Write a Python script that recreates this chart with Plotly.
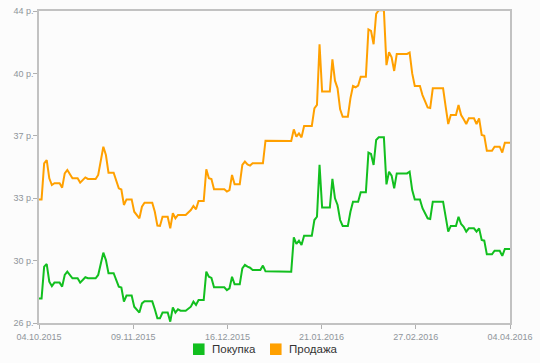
import plotly.graph_objects as go

dates = [
    "2015-10-04", "2015-10-05", "2015-10-06", "2015-10-07", "2015-10-08", "2015-10-09",
    "2015-10-10", "2015-10-12", "2015-10-13", "2015-10-14", "2015-10-15", "2015-10-17",
    "2015-10-19", "2015-10-20", "2015-10-22", "2015-10-23", "2015-10-26", "2015-10-27",
    "2015-10-29", "2015-10-30", "2015-10-31", "2015-11-02", "2015-11-04", "2015-11-05",
    "2015-11-06", "2015-11-07", "2015-11-09", "2015-11-10", "2015-11-12", "2015-11-13",
    "2015-11-14", "2015-11-17", "2015-11-18", "2015-11-19", "2015-11-20", "2015-11-21",
    "2015-11-23", "2015-11-24", "2015-11-25", "2015-11-26", "2015-11-27", "2015-11-28",
    "2015-11-30", "2015-12-02", "2015-12-03", "2015-12-04", "2015-12-05", "2015-12-07",
    "2015-12-08", "2015-12-09", "2015-12-10", "2015-12-11", "2015-12-15", "2015-12-16",
    "2015-12-17", "2015-12-18", "2015-12-19", "2015-12-21", "2015-12-22", "2015-12-23",
    "2015-12-24", "2015-12-25", "2015-12-26", "2015-12-29", "2015-12-30", "2015-12-31",
    "2016-01-10", "2016-01-11", "2016-01-12", "2016-01-13", "2016-01-14", "2016-01-15",
    "2016-01-18", "2016-01-19", "2016-01-20", "2016-01-21", "2016-01-22", "2016-01-25",
    "2016-01-26", "2016-01-27", "2016-01-28", "2016-01-29", "2016-01-30", "2016-02-01",
    "2016-02-02", "2016-02-03", "2016-02-04", "2016-02-05", "2016-02-06", "2016-02-08",
    "2016-02-09", "2016-02-10", "2016-02-11", "2016-02-12", "2016-02-13", "2016-02-15",
    "2016-02-16", "2016-02-17", "2016-02-18", "2016-02-19", "2016-02-20", "2016-02-24",
    "2016-02-25", "2016-02-26", "2016-02-27", "2016-02-29", "2016-03-01", "2016-03-03",
    "2016-03-04", "2016-03-05", "2016-03-09", "2016-03-10", "2016-03-11", "2016-03-12",
    "2016-03-14", "2016-03-15", "2016-03-16", "2016-03-17", "2016-03-18", "2016-03-19",
    "2016-03-21", "2016-03-22", "2016-03-23", "2016-03-24", "2016-03-25", "2016-03-26",
    "2016-03-28", "2016-03-29", "2016-03-31", "2016-04-01", "2016-04-02", "2016-04-04",
]

buy = [
    27.42, 27.42, 29.25, 29.40, 28.38, 28.13,
    28.33, 28.33, 28.10, 28.77, 28.96, 28.58,
    28.58, 28.33, 28.64, 28.58, 28.58, 28.77,
    30.06, 29.63, 28.87, 28.87, 28.10, 28.05,
    27.23, 27.58, 27.58, 26.94, 26.60, 27.13,
    27.25, 27.25, 26.79, 26.27, 26.27, 26.60,
    26.60, 26.08, 26.90, 26.60, 26.79, 26.71,
    26.71, 26.94, 27.23, 27.04, 27.33, 27.33,
    28.96, 28.67, 28.60, 28.06, 28.06, 27.90,
    28.00, 28.67, 28.23, 28.23, 29.15, 29.35,
    29.25, 29.19, 29.06, 29.06, 29.31, 28.98,
    28.96, 30.94, 30.56, 30.75, 30.50, 31.04,
    31.04, 31.94, 32.13, 35.12, 32.67, 32.67,
    34.31, 33.19, 32.81, 31.94, 31.60, 31.60,
    32.42, 33.00, 33.00, 33.00, 33.54, 33.54,
    35.83, 35.75, 35.12, 36.56, 36.71, 36.71,
    34.00, 34.73, 34.50, 33.77, 34.63, 34.63,
    34.73, 33.67, 33.13, 33.13, 32.62, 32.04,
    32.00, 33.00, 33.00, 32.13, 31.27, 31.60,
    31.60, 32.13, 31.71, 31.55, 31.27, 31.46,
    31.46, 31.27, 31.46, 30.79, 30.75, 29.96,
    29.96, 30.17, 30.17, 29.87, 30.27, 30.27,
]

sell = [
    33.13, 33.13, 35.21, 35.40, 34.35, 33.96,
    34.06, 34.06, 33.81, 34.63, 34.83, 34.35,
    34.35, 34.10, 34.40, 34.31, 34.31, 34.54,
    36.17, 35.69, 34.67, 34.67, 33.77, 33.70,
    32.81, 33.13, 33.13, 32.42, 32.04, 32.71,
    32.94, 32.94, 32.42, 31.62, 31.60, 32.13,
    32.13, 31.46, 32.33, 32.04, 32.23, 32.23,
    32.23, 32.52, 32.75, 32.56, 33.04, 33.04,
    34.87, 34.35, 34.30, 33.71, 33.71, 33.58,
    33.67, 34.54, 34.00, 34.00, 35.12, 35.31,
    35.15, 35.08, 35.21, 35.21, 35.21, 36.52,
    36.50, 37.17, 36.75, 36.94, 36.71, 37.37,
    37.37, 38.38, 38.58, 42.08, 39.35, 39.35,
    41.21, 39.98, 39.54, 38.33, 37.90, 37.90,
    38.96, 39.67, 39.60, 39.70, 40.21, 40.21,
    42.94, 42.85, 42.08, 43.83, 44.05, 44.05,
    40.88, 41.62, 41.33, 40.54, 41.52, 41.52,
    41.60, 40.40, 39.67, 39.67, 39.15, 38.44,
    38.40, 39.54, 39.54, 38.48, 37.48, 38.00,
    38.00, 38.58, 38.00, 37.75, 37.48, 37.81,
    37.81, 37.48, 37.81, 36.85, 36.80, 35.94,
    35.94, 36.17, 36.17, 35.83, 36.40, 36.40,
]

series_names = ["Покупка", "Продажа"]
colors = ["#12bf1f", "#ffa000"]

y_tickvals = [26, 29.6, 33.2, 36.8, 40.4, 44]
y_ticktext = ["26 р.", "30 р.", "33 р.", "37 р.", "40 р.", "44 р."]
x_tickvals = ["2015-10-04", "2015-11-09 14:24", "2015-12-16 04:48",
              "2016-01-21 19:12", "2016-02-27 09:36", "2016-04-04"]
x_ticktext = ["04.10.2015", "09.11.2015", "16.12.2015", "21.01.2016", "27.02.2016", "04.04.2016"]

fig = go.Figure()
for name, vals, col in zip(series_names, [buy, sell], colors):
    fig.add_trace(go.Scatter(x=dates, y=vals, mode="lines", name=name,
                             line=dict(color=col, width=2), showlegend=False))

axis_font = dict(family="Liberation Sans, Arial, sans-serif", size=9, color="#8f959b")
fig.update_layout(
    width=540, height=363,
    margin=dict(l=39, r=30, t=11, b=40),
    paper_bgcolor="#fcfcfc", plot_bgcolor="#fcfcfc",
    showlegend=False,
    xaxis=dict(type="date", range=["2015-10-04", "2016-04-04"],
               tickvals=x_tickvals, ticktext=x_ticktext,
               showgrid=False, zeroline=False, automargin=False,
               showline=True, linecolor="#c2c2c2", linewidth=1.5, mirror=True,
               ticks="outside", ticklen=4, tickcolor="#b0b0b0", tickwidth=1,
               tickfont=axis_font),
    yaxis=dict(range=[26, 44], tickvals=y_tickvals, ticktext=y_ticktext,
               showgrid=False, zeroline=False, automargin=False,
               showline=True, linecolor="#c2c2c2", linewidth=1.5, mirror=True,
               ticks="outside", ticklen=4, tickcolor="#b0b0b0", tickwidth=1,
               ticklabelstandoff=-2, tickfont=axis_font),
)

# manual legend (squares + labels) below the plot
legend_items = [(0.327, series_names[0], colors[0]), (0.4905, series_names[1], colors[1])]
for x0, name, col in legend_items:
    fig.add_shape(type="rect", xref="paper", yref="paper",
                  x0=x0, x1=x0 + 0.0245, y0=-0.0655, y1=-0.1025,
                  fillcolor=col, line=dict(width=0))
    fig.add_annotation(xref="paper", yref="paper", x=x0 + 0.035, y=-0.084,
                       xanchor="left", yanchor="middle", showarrow=False,
                       text=name, font=dict(family="Liberation Sans, Arial, sans-serif",
                                            size=11.5, color="#333333"))

fig.write_html("out.html", config={"displayModeBar": False},
               post_script="document.body.style.margin='0';document.body.style.overflow='hidden';")
